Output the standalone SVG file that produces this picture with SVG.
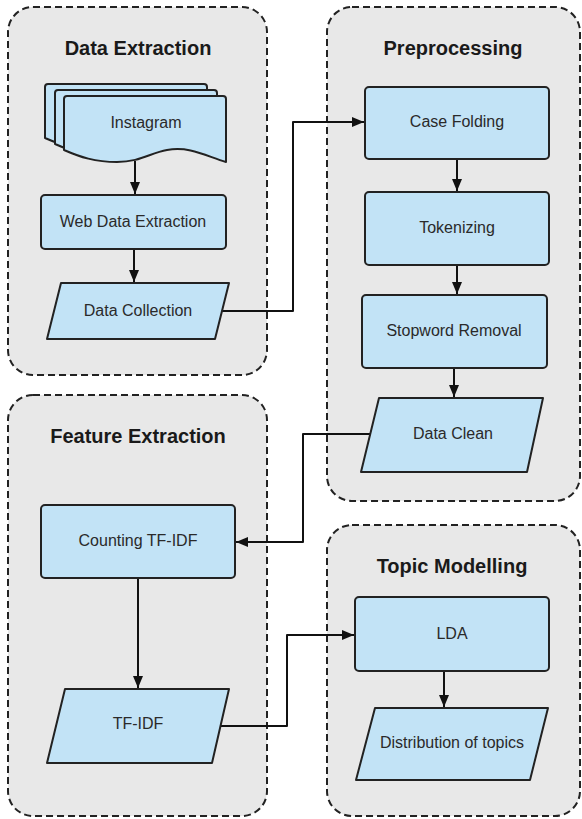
<svg xmlns="http://www.w3.org/2000/svg" width="582" height="819" viewBox="0 0 582 819">
  <style>
    .lane { fill: #e8e8e8; stroke: #222; stroke-width: 2; stroke-dasharray: 7 4; }
    .title { font-family: "Liberation Sans", Arial, sans-serif; font-weight: bold; font-size: 20px; fill: #1a1a1a; text-anchor: middle; }
    .box { fill: #c2e3f6; stroke: #222; stroke-width: 2; stroke-linejoin: round; }
    .label { font-family: "Liberation Sans", Arial, sans-serif; font-size: 16px; fill: #2a2a2a; text-anchor: middle; dominant-baseline: central; }
    .edge { fill: none; stroke: #111; stroke-width: 2; stroke-linejoin: round; }
  </style>
  <defs>
    <marker id="arrow" markerUnits="userSpaceOnUse" markerWidth="13" markerHeight="12" refX="12" refY="6" orient="auto">
      <path d="M0,1 L12,6 L0,11 z" fill="#111"/>
    </marker>
    <!-- single document sheet with wavy bottom edge -->
    <path id="sheet" d="M67,96 H223 Q226,96 226,99 V162 C206,156 190,146 167,150 C150,153 140,162 117,162 C95,162 80,157 64,150 V99 Q64,96 67,96 Z"/>
  </defs>

  <!-- swimlane containers -->
  <g id="lane-data-extraction">
    <rect class="lane" x="8" y="7" width="259" height="368" rx="25"/>
    <text class="title" x="138" y="55">Data Extraction</text>
  </g>
  <g id="lane-preprocessing">
    <rect class="lane" x="327" y="7" width="253" height="494" rx="25"/>
    <text class="title" x="453" y="55">Preprocessing</text>
  </g>
  <g id="lane-feature-extraction">
    <rect class="lane" x="8" y="395" width="259" height="421" rx="25"/>
    <text class="title" x="138" y="443">Feature Extraction</text>
  </g>
  <g id="lane-topic-modelling">
    <rect class="lane" x="327" y="525" width="253" height="291" rx="25"/>
    <text class="title" x="452" y="573">Topic Modelling</text>
  </g>

  <!-- connectors -->
  <g id="connectors">
    <path class="edge" d="M135,161 V194" marker-end="url(#arrow)"/>
    <path class="edge" d="M134,249 V282" marker-end="url(#arrow)"/>
    <path class="edge" d="M222,311 H293 V122 H364" marker-end="url(#arrow)"/>
    <path class="edge" d="M457,159 V191" marker-end="url(#arrow)"/>
    <path class="edge" d="M457,265 V294" marker-end="url(#arrow)"/>
    <path class="edge" d="M454,368 V397" marker-end="url(#arrow)"/>
    <path class="edge" d="M370,434 H303 V542 H236" marker-end="url(#arrow)"/>
    <path class="edge" d="M138,578 V688" marker-end="url(#arrow)"/>
    <path class="edge" d="M220,726 H287 V635 H354" marker-end="url(#arrow)"/>
    <path class="edge" d="M444,671 V707" marker-end="url(#arrow)"/>
  </g>

  <!-- nodes -->
  <g id="instagram">
    <use href="#sheet" class="box" transform="translate(-19,-12)"/>
    <use href="#sheet" class="box" transform="translate(-9,-6)"/>
    <use href="#sheet" class="box"/>
    <text class="label" x="146" y="122">Instagram</text>
  </g>
  <g id="web-data-extraction">
    <rect class="box" x="41" y="195" width="185" height="54" rx="4"/>
    <text class="label" x="133" y="221">Web Data Extraction</text>
  </g>
  <g id="data-collection">
    <path class="box" d="M61,283 H229 L215,339 H47 Z"/>
    <text class="label" x="138" y="310">Data Collection</text>
  </g>
  <g id="case-folding">
    <rect class="box" x="365" y="87" width="184" height="72" rx="4"/>
    <text class="label" x="457" y="121">Case Folding</text>
  </g>
  <g id="tokenizing">
    <rect class="box" x="365" y="192" width="184" height="73" rx="4"/>
    <text class="label" x="457" y="227">Tokenizing</text>
  </g>
  <g id="stopword-removal">
    <rect class="box" x="362" y="295" width="185" height="73" rx="4"/>
    <text class="label" x="454" y="330">Stopword Removal</text>
  </g>
  <g id="data-clean">
    <path class="box" d="M379,398 H543 L527,472 H361 Z"/>
    <text class="label" x="453" y="433">Data Clean</text>
  </g>
  <g id="counting-tf-idf">
    <rect class="box" x="41" y="505" width="194" height="73" rx="4"/>
    <text class="label" x="138" y="540">Counting TF-IDF</text>
  </g>
  <g id="tf-idf">
    <path class="box" d="M65,689 H229 L212,763 H47 Z"/>
    <text class="label" x="138" y="723">TF-IDF</text>
  </g>
  <g id="lda">
    <rect class="box" x="355" y="597" width="194" height="74" rx="4"/>
    <text class="label" x="452" y="633">LDA</text>
  </g>
  <g id="distribution-of-topics">
    <path class="box" d="M375,708 H548 L530,780 H356 Z"/>
    <text class="label" x="452" y="742">Distribution of topics</text>
  </g>
</svg>
